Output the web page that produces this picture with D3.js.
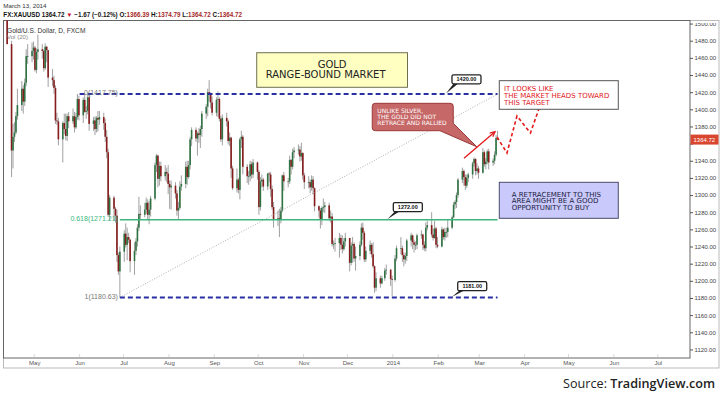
<!DOCTYPE html>
<html><head><meta charset="utf-8">
<script src="https://cdn.jsdelivr.net/npm/d3@7"></script>
<style>
html,body{margin:0;padding:0;background:#fff;}
svg{display:block;}
</style></head><body>
<svg id="chart" width="720" height="397"></svg>
<script>
// ---------------- DATA ----------------
const monthDays = [
 ["2013-04",[12,15,16,17,18,19,22,23,24,25,26,29,30]],
 ["2013-05",[1,2,3,6,7,8,9,10,13,14,15,16,17,20,21,22,23,24,27,28,29,30,31]],
 ["2013-06",[3,4,5,6,7,10,11,12,13,14,17,18,19,20,21,24,25,26,27,28]],
 ["2013-07",[1,2,3,4,5,8,9,10,11,12,15,16,17,18,19,22,23,24,25,26,29,30,31]],
 ["2013-08",[1,2,5,6,7,8,9,12,13,14,15,16,19,20,21,22,23,26,27,28,29,30]],
 ["2013-09",[2,3,4,5,6,9,10,11,12,13,16,17,18,19,20,23,24,25,26,27,30]],
 ["2013-10",[1,2,3,4,7,8,9,10,11,14,15,16,17,18,21,22,23,24,25,28,29,30,31]],
 ["2013-11",[1,4,5,6,7,8,11,12,13,14,15,18,19,20,21,22,25,26,27,28,29]],
 ["2013-12",[2,3,4,5,6,9,10,11,12,13,16,17,18,19,20,23,24,26,27,30,31]],
 ["2014-01",[2,3,6,7,8,9,10,13,14,15,16,17,20,21,22,23,24,27,28,29,30,31]],
 ["2014-02",[3,4,5,6,7,10,11,12,13,14,17,18,19,20,21,24,25,26,27,28]],
 ["2014-03",[3,4,5,6,7,10,11,12,13]]
];
const opens = [
 1564,1476,1352,1368,1373,1392,1405,1424,1409,1431,1462,1462,1468,
 1472,1446,1467,1470,1468,1448,1473,1469,1437,1434,1425,1387,1386,1365,1384,1377,1369,1392,1386,1392,1379,1391,1412,
 1393,1411,1397,1398,1414,1383,1387,1377,1390,1388,1391,1384,1368,1350,1277,1297,1284,1276,1230,1211,
 1234,1255,1242,1251,1248,1223,1235,1246,1262,1278,1277,1283,1291,1277,1283,1296,1335,1346,1319,1334,1322,1327,1325,
 1313,1309,1311,1302,1282,1285,1310,1313,1333,1321,1335,1365,1376,1366,1372,1370,1377,1395,1403,1420,1418,1408,
 1396,1411,1412,1389,1365,1390,1386,1363,1367,1331,1308,1318,1306,1365,1368,1333,1322,1322,1336,1324,1338,
 1327,1286,1316,1318,1310,1325,1324,1307,1286,1271,1273,1272,1282,1323,1316,1316,1341,1333,1350,1352,1353,1345,1349,
 1323,1315,1315,1309,1318,1308,1287,1282,1271,1285,1286,1288,1273,1275,1243,1243,1244,1250,1242,1237,1246,
 1250,1221,1241,1243,1226,1229,1242,1262,1256,1225,1235,1242,1231,1217,1192,1203,1197,1203,1212,1213,1202,
 1201,1226,1238,1238,1230,1225,1229,1247,1253,1245,1242,1242,1253,1254,1242,1238,1262,1265,1254,1250,1261,1242,
 1240,1260,1251,1257,1257,1262,1274,1289,1292,1300,1318,1328,1321,1311,1320,1324,1337,1342,1328,1331,
 1326,1350,1336,1339,1351,1338,1340,1347,1366.39
];
const highs = [
 1566,1480,1383,1385,1397,1424,1433,1428,1436,1470,1476,1478,1479,
 1474,1471,1487,1476,1470,1477,1474,1469,1447,1439,1428,1396,1390,1386,1395,1395,1395,1397,1401,1397,1396,1418,1416,
 1414,1417,1404,1417,1417,1391,1392,1392,1398,1398,1396,1389,1376,1354,1300,1299,1286,1283,1233,1240,
 1259,1267,1262,1256,1249,1245,1250,1266,1298,1288,1291,1297,1295,1293,1299,1338,1348,1347,1339,1339,1335,1332,1335,
 1317,1317,1315,1306,1292,1316,1323,1339,1340,1340,1368,1379,1379,1374,1378,1381,1398,1406,1424,1434,1420,1415,
 1414,1421,1414,1392,1394,1396,1388,1373,1368,1334,1331,1320,1367,1375,1370,1336,1328,1340,1339,1342,1339,
 1329,1321,1324,1320,1326,1327,1327,1311,1292,1282,1284,1286,1324,1327,1320,1346,1342,1354,1356,1359,1357,1361,1350,
 1326,1322,1318,1323,1322,1309,1288,1285,1287,1296,1292,1291,1282,1279,1247,1250,1256,1254,1253,1250,1256,
 1250,1245,1251,1245,1240,1246,1267,1268,1258,1240,1247,1244,1245,1218,1210,1206,1206,1215,1219,1214,1206,
 1230,1241,1251,1241,1233,1233,1249,1256,1254,1248,1246,1255,1259,1255,1246,1268,1270,1280,1261,1270,1263,1251,
 1263,1261,1262,1262,1271,1276,1292,1294,1303,1320,1332,1330,1324,1324,1326,1339,1344,1343,1337,1334,
 1355,1352,1343,1353,1354,1343,1351,1370,1374.79
];
const lows = [
 1476,1321,1331,1362,1371,1388,1398,1395,1404,1427,1453,1455,1458,
 1444,1442,1458,1459,1444,1446,1455,1426,1427,1418,1383,1382,1358,1338,1371,1364,1363,1378,1383,1373,1377,1388,1387,
 1384,1396,1389,1394,1375,1375,1370,1373,1374,1382,1376,1362,1343,1275,1270,1270,1268,1222,1207,1180.63,
 1222,1239,1224,1244,1210,1207,1230,1240,1258,1272,1274,1278,1271,1266,1275,1294,1327,1309,1311,1316,1317,1315,1301,
 1284,1283,1296,1276,1271,1283,1305,1308,1312,1319,1330,1357,1362,1346,1361,1355,1368,1389,1392,1409,1401,1393,
 1392,1391,1386,1362,1358,1380,1359,1357,1320,1306,1303,1302,1295,1355,1324,1314,1312,1316,1319,1320,1318,
 1277,1282,1309,1305,1306,1315,1298,1283,1262,1264,1251,1267,1280,1305,1309,1313,1324,1330,1343,1347,1339,1340,1318,
 1307,1308,1302,1305,1301,1281,1274,1261,1265,1280,1279,1270,1268,1240,1237,1234,1227,1236,1232,1235,1240,
 1211,1218,1221,1222,1212,1224,1240,1248,1222,1222,1231,1227,1215,1186,1188,1192,1196,1200,1207,1194,1182,
 1199,1223,1231,1222,1217,1220,1223,1240,1237,1233,1236,1237,1249,1236,1235,1234,1259,1251,1247,1249,1238,1238,
 1239,1248,1247,1250,1251,1260,1273,1284,1285,1297,1314,1311,1306,1308,1315,1319,1333,1323,1324,1319,
 1325,1333,1330,1336,1330,1334,1336,1345,1364.72
];
const closes = [
 1476,1352,1368,1373,1392,1405,1424,1409,1431,1462,1462,1468,1472,
 1446,1467,1470,1468,1448,1473,1469,1437,1434,1425,1387,1386,1365,1384,1377,1369,1392,1386,1392,1379,1391,1412,1393,
 1411,1397,1398,1414,1383,1387,1377,1390,1388,1391,1384,1368,1350,1277,1297,1284,1276,1230,1211,1234,
 1255,1242,1251,1248,1223,1235,1246,1262,1278,1277,1283,1291,1277,1283,1296,1335,1346,1319,1334,1322,1327,1325,1313,
 1309,1311,1302,1282,1285,1310,1313,1333,1321,1335,1365,1376,1366,1372,1370,1377,1395,1403,1420,1418,1408,1396,
 1411,1412,1389,1365,1390,1386,1363,1367,1331,1308,1318,1306,1365,1368,1333,1322,1322,1336,1324,1338,1327,
 1286,1316,1318,1310,1325,1324,1307,1286,1271,1273,1272,1282,1323,1316,1316,1341,1333,1350,1352,1353,1345,1349,1323,
 1315,1315,1309,1318,1308,1287,1282,1271,1285,1286,1288,1273,1275,1243,1243,1244,1250,1242,1237,1246,1250,
 1221,1241,1243,1226,1229,1242,1262,1256,1225,1235,1242,1231,1217,1192,1203,1197,1203,1212,1213,1202,1201,
 1226,1238,1238,1230,1225,1229,1247,1253,1245,1242,1242,1253,1254,1242,1238,1262,1265,1254,1250,1261,1242,1240,
 1260,1251,1257,1257,1262,1274,1289,1292,1300,1318,1328,1321,1311,1320,1324,1337,1342,1328,1331,1326,
 1350,1336,1339,1351,1338,1340,1347,1366.39,1364.72
];
const yTicks = [1120,1140,1160,1180,1200,1220,1240,1260,1280,1300,1320,1340,1360,1380,1400,1420,1440,1460,1480,1500];
const lastPrice = 1364.72;

// Fibonacci retracement (from the June 2013 low to the last bar)
const fibStart = "2013-06-28T12:00", fibEnd = "2014-03-13T12:00";
const fibLevels = [
 {label:"0(1417.75)", price:1417.75},
 {label:"0.618(1271.21)", price:1271.21},
 {label:"1(1180.63)", price:1180.63}
];
const topLineStart = "2013-06-01";
const callouts = [
 {text:"1420.00", date:"2014-02-06T07:00", price:1417.75, dy:-19.3},
 {text:"1272.00", date:"2013-12-28T05:00", price:1271.21, dy:-17.2},
 {text:"1181.00", date:"2014-02-10T05:00", price:1180.63, dy:-15.8}
];
const arrowPts = [["2014-02-18T14:00",1342.9],["2014-03-11T19:00",1373.9]];
const zigzagPts = [["2014-03-13T04:00",1367.7],["2014-03-19T23:00",1349.1],["2014-03-26T19:00",1392.2],["2014-04-05T00:00",1372.4],["2014-04-11T05:00",1402.7]];
const goldBox = {tl:["2013-09-30",1466], br:["2014-01-11",1425.7], lines:["GOLD","RANGE-BOUND MARKET"]};
const redNote = {tip:["2014-02-27T06:00",1356.4], lines:["UNLIKE SILVER,","THE GOLD DID NOT","RETRACE AND RALLIED"]};
const targetNote = {tl:["2014-03-14T17:00",1433.4], lines:["IT LOOKS LIKE","THE MARKET HEADS TOWARD","THIS TARGET"]};
const blueNote = {tl:["2014-03-14T17:00",1314.9], lines:["A RETRACEMENT TO THIS","AREA MIGHT BE A GOOD","OPPORTUNITY TO BUY"]};

// ---------------- SETUP ----------------
const parseDay = d3.timeParse("%Y-%m-%d");
const parseDT = d3.timeParse("%Y-%m-%dT%H:%M");
const pd = s => s.length > 10 ? parseDT(s) : parseDay(s);
const dates = [];
monthDays.forEach(([m, days]) => days.forEach(dd => dates.push(pd(m + "-" + String(dd).padStart(2, "0")))));

const svg = d3.select("#chart");
const P = {left:3.5, right:690, top:20.5, bottom:358};
const x = d3.scaleTime().domain([new Date(2013,3,10), new Date(2014,6,23)]).range([P.left, P.right]);
const y = d3.scaleLinear().domain([1110,1503]).range([P.bottom, 21]);
const pt = a => [x(pd(a[0])), y(a[1])];
const SANS = "'Liberation Sans', Arial, sans-serif";
const VERD = "'DejaVu Sans', Verdana, sans-serif";

function fit(sel, width){
  const w = sel.node().getComputedTextLength();
  const fs = parseFloat(sel.attr("font-size"));
  if (w > 0) sel.attr("font-size", fs * width / w);
  return sel;
}

const defs = svg.append("defs");
defs.append("clipPath").attr("id","plotClip").append("rect")
  .attr("x",P.left).attr("y",P.top).attr("width",P.right-P.left).attr("height",P.bottom-P.top);
defs.append("clipPath").attr("id","axisClip").append("rect")
  .attr("x",P.right).attr("y",23).attr("width",40).attr("height",P.bottom-23+6);

// frames
svg.append("rect").attr("x",P.left).attr("y",P.top).attr("width",719-P.left).attr("height",368-P.top)
  .attr("fill","none").attr("stroke","#aaa").attr("stroke-width",0.8);
svg.append("rect").attr("x",P.left).attr("y",P.top).attr("width",P.right-P.left).attr("height",P.bottom-P.top)
  .attr("fill","#fff").attr("stroke","#666").attr("stroke-width",1);

// ---------------- AXES ----------------
const lastY = y(lastPrice);
const yAxis = d3.axisRight(y).tickValues(yTicks).tickSize(3).tickPadding(1.5)
  .tickFormat(d => Math.abs(y(d) - lastY) < 8 ? "" : d3.format(".2f")(d));
const gy = svg.append("g").attr("clip-path","url(#axisClip)")
  .append("g").attr("transform",`translate(${P.right},0)`).call(yAxis);
gy.select(".domain").remove();
gy.selectAll("line").attr("stroke","#555");
gy.selectAll("text").attr("font-family",SANS).attr("font-size",6).attr("fill","#444");

const monthTicks = x.ticks(d3.timeMonth.every(1));
const xAxis = d3.axisBottom(x).tickValues(monthTicks).tickSizeInner(0).tickSizeOuter(0).tickPadding(3.2)
  .tickFormat(d => d.getMonth() === 0 ? d3.timeFormat("%Y")(d) : d3.timeFormat("%b")(d));
const gx = svg.append("g").attr("transform",`translate(0,${P.bottom})`).call(xAxis);
gx.select(".domain").remove();
gx.selectAll("text").attr("font-family",SANS).attr("font-size",6).attr("fill","#555");
svg.append("g").selectAll("line").data(monthTicks).join("line")
  .attr("x1",d=>x(d)).attr("x2",d=>x(d)).attr("y1",P.bottom-1).attr("y2",P.bottom-4)
  .attr("stroke","#d0d0d0").attr("stroke-width",0.8);

// ---------------- CANDLES ----------------
const bars = dates.map((d,i) => ({date:d, o:opens[i], h:highs[i], l:lows[i], c:closes[i]}));
const cx = d => x(d3.timeHour.offset(d.date, 12));
const gc = svg.append("g").attr("clip-path","url(#plotClip)");
gc.selectAll("line.wick").data(bars).join("line").attr("class","wick")
  .attr("x1",cx).attr("x2",cx).attr("y1",d=>y(d.h)).attr("y2",d=>y(d.l))
  .attr("stroke","#777").attr("stroke-width",0.7);
gc.selectAll("rect.body").data(bars).join("rect").attr("class","body")
  .attr("x",d=>cx(d)-0.8).attr("width",1.6)
  .attr("y",d=>y(Math.max(d.o,d.c)))
  .attr("height",d=>Math.max(0.8, Math.abs(y(d.o)-y(d.c))))
  .attr("fill",d=>d.c>=d.o ? "#2f7343" : "#861c1c");

// ---------------- FIB / LEVELS ----------------
const xs = x(pd(fibStart)), xe = x(pd(fibEnd));
const ga = svg.append("g");
ga.append("line").attr("x1",xs).attr("y1",y(1180.63)).attr("x2",xe).attr("y2",y(1417.75))
  .attr("stroke","#9a9a9a").attr("stroke-width",0.8).attr("stroke-dasharray","1,1.6");
ga.append("line").attr("x1",xs).attr("x2",xe).attr("y1",y(fibLevels[1].price)).attr("y2",y(fibLevels[1].price))
  .attr("stroke","#3bb77e").attr("stroke-width",1.5);
ga.append("line").attr("x1",x(pd(topLineStart))).attr("x2",xe).attr("y1",y(fibLevels[0].price)).attr("y2",y(fibLevels[0].price))
  .attr("stroke","#2a2fa3").attr("stroke-width",2).attr("stroke-dasharray","5,3");
ga.append("line").attr("x1",xs).attr("x2",xe).attr("y1",y(fibLevels[2].price)).attr("y2",y(fibLevels[2].price))
  .attr("stroke","#2a2fa3").attr("stroke-width",2).attr("stroke-dasharray","5,3");
ga.selectAll("text.fib").data(fibLevels).join("text").attr("class","fib")
  .attr("x",xs-2).attr("y",d=>y(d.price)+1.2).attr("text-anchor","end")
  .attr("font-family",SANS).attr("font-size",7)
  .attr("fill",(d,i)=> i===1 ? "#3bb77e" : "#777").text(d=>d.label);

// price callouts
callouts.forEach(c => {
  const [tx, ty] = pt([c.date, c.price]);
  const bx = tx + 6, by = ty + c.dy, bw = 29, bh = 9;
  ga.append("path").attr("d",`M${tx},${ty-0.5}L${bx+1.5},${by+bh}L${bx+6},${by+bh}Z`).attr("fill","#222");
  ga.append("rect").attr("x",bx).attr("y",by).attr("width",bw).attr("height",bh).attr("rx",1.5)
    .attr("fill","#fff").attr("stroke","#222").attr("stroke-width",1.3);
  ga.append("text").attr("x",bx+bw/2).attr("y",by+bh/2+2).attr("text-anchor","middle")
    .attr("font-family",SANS).attr("font-weight","bold").attr("font-size",5.5).attr("fill","#111").text(c.text);
});

// GOLD box
{
  const [x0,y0] = pt(goldBox.tl), [x1,y1] = pt(goldBox.br);
  ga.append("rect").attr("x",x0).attr("y",y0).attr("width",x1-x0).attr("height",y1-y0)
    .attr("fill","#ffffc2").attr("stroke","#6e6e50").attr("stroke-width",1);
  ga.append("text").attr("x",(x0+x1)/2).attr("y",y0+15.6).attr("text-anchor","middle")
    .attr("font-family",VERD).attr("font-size",10).attr("fill","#222").text(goldBox.lines[0]);
  ga.append("text").attr("x",x0+9).attr("y",y0+25.6)
    .attr("font-family",VERD).attr("font-size",10).attr("fill","#222").text(goldBox.lines[1]);
}

// red callout with tail
{
  const [tx,ty] = pt(redNote.tip);
  const L = tx-104.4, T = ty-43.4, R = L+81, B = T+27.4, r = 3;
  const d = `M${L+r},${T}H${R-r}Q${R},${T} ${R},${T+r}V${T+20}L${tx},${ty}L${L+67.7},${B}H${L+r}Q${L},${B} ${L},${B-r}V${T+r}Q${L},${T} ${L+r},${T}Z`;
  ga.append("path").attr("d",d).attr("fill","#c66868").attr("stroke","#9a3838").attr("stroke-width",1);
  redNote.lines.forEach((t,i) => ga.append("text").attr("x",L+5).attr("y",T+9.9+i*5.85)
    .attr("font-family",VERD).attr("font-size",6).attr("fill","#fff").text(t));
}

// red arrow
{
  const [a0,a1] = arrowPts.map(pt);
  const ang = Math.atan2(a1[1]-a0[1], a1[0]-a0[0]);
  const hl = 5.5, ha = 0.45;
  ga.append("line").attr("x1",a0[0]).attr("y1",a0[1]).attr("x2",a1[0]).attr("y2",a1[1])
    .attr("stroke","#e31a1c").attr("stroke-width",1.3);
  ga.append("path").attr("d",`M${a1[0]-hl*Math.cos(ang-ha)},${a1[1]-hl*Math.sin(ang-ha)}L${a1[0]},${a1[1]}L${a1[0]-hl*Math.cos(ang+ha)},${a1[1]-hl*Math.sin(ang+ha)}`)
    .attr("fill","none").attr("stroke","#e31a1c").attr("stroke-width",1.3);
}
ga.append("path").attr("d",d3.line()(zigzagPts.map(pt)))
  .attr("fill","none").attr("stroke","#e31a1c").attr("stroke-width",1.6).attr("stroke-dasharray","3.5,2.5");

// target note
{
  const [L,T] = pt(targetNote.tl);
  ga.append("rect").attr("x",L).attr("y",T).attr("width",119).attr("height",28.6)
    .attr("fill","#fff").attr("stroke","#555").attr("stroke-width",1);
  targetNote.lines.forEach((t,i) => ga.append("text").attr("x",L+4.7).attr("y",T+10.8+i*6.75)
    .attr("font-family",VERD).attr("font-size",7).attr("fill","#e0201c").text(t));
}
// blue note
{
  const [L,T] = pt(blueNote.tl);
  ga.append("rect").attr("x",L).attr("y",T).attr("width",119).attr("height",36)
    .attr("fill","#c9c9fb").attr("stroke","#4a4a6a").attr("stroke-width",1);
  blueNote.lines.forEach((t,i) => ga.append("text").attr("x",L+12.4).attr("y",T+14.3+i*6.75)
    .attr("font-family",VERD).attr("font-size",7).attr("fill","#1c1c40").text(t));
}

// last price label
svg.append("rect").attr("x",P.right+0.5).attr("y",lastY-5).attr("width",28).attr("height",10).attr("fill","#d9462f");
svg.append("text").attr("x",P.right+3.5).attr("y",lastY+2.1).attr("font-family",SANS).attr("font-size",6)
  .attr("fill","#fff").text(d3.format(".2f")(lastPrice));

// ---------------- TEXTS ----------------
fit(svg.append("text").attr("x",3.3).attr("y",8).attr("font-family",SANS).attr("font-size",7).attr("fill","#333")
  .text("March 13, 2014"), 43.3);
{
  const t = svg.append("text").attr("x",3.3).attr("y",17.4).attr("font-family",SANS).attr("font-size",7)
    .attr("font-weight","bold").attr("fill","#111");
  const parts = [["FX:XAUUSD 1364.72 ","#111"],["▼","#c8102e"],[" −1.67 (−0.12%) ","#111"],
    ["O:","#111"],["1366.39","#a52a2a"],[" H:","#111"],["1374.79","#a52a2a"],
    [" L:","#111"],["1364.72","#a52a2a"],[" C:","#111"],["1364.72","#a52a2a"]];
  parts.forEach(([s,c]) => t.append("tspan").attr("fill",c).text(s));
  fit(t, 239);
}
fit(svg.append("text").attr("x",7).attr("y",32.6).attr("font-family",SANS).attr("font-size",7).attr("fill","#333")
  .text("Gold/U.S. Dollar, D, FXCM"), 78.7);
fit(svg.append("text").attr("x",7).attr("y",38.8).attr("font-family",SANS).attr("font-size",6).attr("fill","#888")
  .text("Vol (20)"), 21);
{
  const t = svg.append("text").attr("x",715).attr("y",388).attr("text-anchor","end")
    .attr("font-family","'Open Sans', sans-serif").attr("font-size",14).attr("fill","#222");
  t.append("tspan").text("Source: ");
  t.append("tspan").attr("font-weight",600).text("TradingView.com");
  fit(t, 152);
}
</script>
</body></html>
